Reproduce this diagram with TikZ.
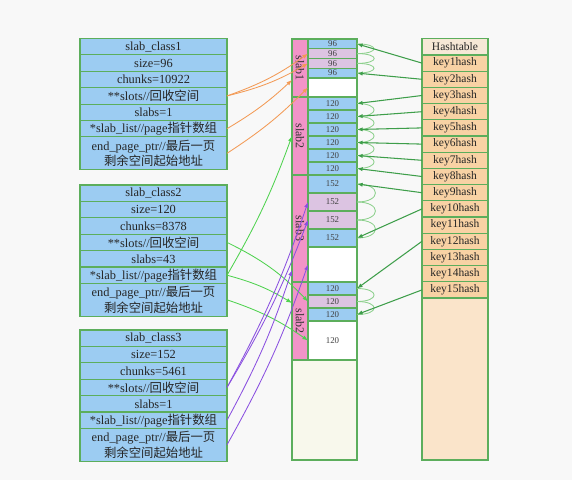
\documentclass[tikz,border=0pt]{standalone}
\usepackage{fontspec}
\setmainfont{Liberation Serif}
\newfontfamily\cjk{Noto Sans CJK SC}
\usetikzlibrary{arrows.meta}

\definecolor{bgcol}{HTML}{F8F8F8}
\definecolor{boxgreen}{HTML}{5CAE5C}
\definecolor{rowblue}{HTML}{9CCCF2}
\definecolor{slabpink}{HTML}{F294C8}
\definecolor{freelilac}{HTML}{DCC4E2}
\definecolor{restcream}{HTML}{F8F8EC}
\definecolor{keypeach}{HTML}{F8D2A4}
\definecolor{headpeach}{HTML}{F6E8D6}
\definecolor{hashempty}{HTML}{FAE4CA}
\definecolor{hashgreen}{HTML}{3E9E4A}
\definecolor{chaingreen}{HTML}{8CD08C}
\definecolor{ptrorange}{HTML}{F39A55}
\definecolor{ptrgreen}{HTML}{4ED24E}
\definecolor{ptrpurple}{HTML}{8A50E0}

\begin{document}
\begin{tikzpicture}[
  x=0.025cm, y=-0.025cm,
  rowbox/.style={
    draw=boxgreen, fill=rowblue, line width=0.8pt,
    minimum width=3.675cm, minimum height=0.41cm,
    inner sep=0pt, outer sep=0pt, align=center,
    font=\fontsize{8.8}{11.2}\selectfont, text=black!85
  },
  endrow/.style={rowbox, minimum height=0.82cm},
  stripbox/.style={
    draw=boxgreen, fill=slabpink, line width=0.8pt,
    minimum width=0.4cm, inner sep=0pt, outer sep=0pt,
    font=\fontsize{8.5}{8.5}\selectfont, text=black!80
  },
  cellbox/.style={
    draw=boxgreen, line width=0.8pt,
    minimum width=1.225cm, inner sep=0pt, outer sep=0pt,
    font=\fontsize{6.3}{6.3}\selectfont, text=black!75
  },
  usedcell/.style={cellbox, fill=rowblue},
  freecell/.style={cellbox, fill=freelilac},
  emptycell/.style={cellbox, fill=white},
  keybox/.style={
    draw=boxgreen, fill=keypeach, line width=0.8pt,
    minimum width=1.65cm, minimum height=0.405cm,
    inner sep=0pt, outer sep=0pt,
    font=\fontsize{8.2}{8.2}\selectfont, text=black!85
  },
  hashptr/.style={-{Latex[length=4pt,width=3pt]}, draw=hashgreen, line width=0.75pt},
  chain/.style={draw=chaingreen, line width=0.6pt},
  ptrA/.style={-{Latex[length=4pt,width=3pt]}, draw=ptrorange, line width=0.6pt},
  ptrB/.style={-{Latex[length=4pt,width=3pt]}, draw=ptrgreen, line width=0.6pt},
  ptrC/.style={-{Latex[length=4pt,width=3pt]}, draw=ptrpurple, line width=0.6pt}
]

\fill[bgcol] (0,0) rectangle (572,480);
\useasboundingbox (0,0) rectangle (572,480);

% slab classes
\node[rowbox] (c1name)   at (153.5, 46.7)  {slab\_class1};
\node[rowbox] (c1size)   at (153.5, 63.1)  {size=96};
\node[rowbox] (c1chunks) at (153.5, 79.5)  {chunks=10922};
\node[rowbox] (c1slots)  at (153.5, 95.9)  {**slots//{\cjk 回收空间}};
\node[rowbox] (c1slabs)  at (153.5, 112.3) {slabs=1};
\node[rowbox] (c1list)   at (153.5, 128.7) {*slab\_list//page{\cjk 指针数组}};
\node[endrow] (c1end)    at (153.5, 153.3) {end\_page\_ptr//{\cjk 最后一页}\\{\cjk 剩余空间起始地址}};

\node[rowbox] (c2name)   at (153.5, 193.2) {slab\_class2};
\node[rowbox] (c2size)   at (153.5, 209.6) {size=120};
\node[rowbox] (c2chunks) at (153.5, 226.0) {chunks=8378};
\node[rowbox] (c2slots)  at (153.5, 242.4) {**slots//{\cjk 回收空间}};
\node[rowbox] (c2slabs)  at (153.5, 258.8) {slabs=43};
\node[rowbox] (c2list)   at (153.5, 275.2) {*slab\_list//page{\cjk 指针数组}};
\node[endrow] (c2end)    at (153.5, 299.8) {end\_page\_ptr//{\cjk 最后一页}\\{\cjk 剩余空间起始地址}};

\node[rowbox] (c3name)   at (153.5, 338.2) {slab\_class3};
\node[rowbox] (c3size)   at (153.5, 354.6) {size=152};
\node[rowbox] (c3chunks) at (153.5, 371.0) {chunks=5461};
\node[rowbox] (c3slots)  at (153.5, 387.4) {**slots//{\cjk 回收空间}};
\node[rowbox] (c3slabs)  at (153.5, 403.8) {slabs=1};
\node[rowbox] (c3list)   at (153.5, 420.2) {*slab\_list//page{\cjk 指针数组}};
\node[endrow] (c3end)    at (153.5, 444.8) {end\_page\_ptr//{\cjk 最后一页}\\{\cjk 剩余空间起始地址}};

% slab pages
\node[stripbox, minimum height=1.45cm]  (slabA) at (300, 68)    {\rotatebox{-90}{slab1}};
\node[stripbox, minimum height=1.95cm]  (slabB) at (300, 136)   {\rotatebox{-90}{slab2}};
\node[stripbox, minimum height=2.675cm] (slabC) at (300, 228.5) {\rotatebox{-90}{slab3}};
\node[stripbox, minimum height=1.95cm]  (slabD) at (300, 321)   {\rotatebox{-90}{slab2}};

\node[usedcell,  minimum height=0.244cm] (s96a) at (332.5, 43.9)  {96};
\node[freecell,  minimum height=0.244cm] (s96b) at (332.5, 53.6)  {96};
\node[freecell,  minimum height=0.244cm] (s96c) at (332.5, 63.4)  {96};
\node[usedcell,  minimum height=0.244cm] (s96d) at (332.5, 73.1)  {96};
\node[emptycell, minimum height=0.475cm] (free1) at (332.5, 87.5) {};

\node[usedcell, minimum height=0.325cm] (s120a) at (332.5, 103.5) {120};
\node[usedcell, minimum height=0.325cm] (s120b) at (332.5, 116.5) {120};
\node[usedcell, minimum height=0.325cm] (s120c) at (332.5, 129.5) {120};
\node[usedcell, minimum height=0.325cm] (s120d) at (332.5, 142.5) {120};
\node[usedcell, minimum height=0.325cm] (s120e) at (332.5, 155.5) {120};
\node[usedcell, minimum height=0.325cm] (s120f) at (332.5, 168.5) {120};

\node[usedcell,  minimum height=0.45cm]  (s152a) at (332.5, 184)   {152};
\node[freecell,  minimum height=0.45cm]  (s152b) at (332.5, 202)   {152};
\node[freecell,  minimum height=0.45cm]  (s152c) at (332.5, 220)   {152};
\node[usedcell,  minimum height=0.45cm]  (s152d) at (332.5, 238)   {152};
\node[emptycell, minimum height=0.875cm] (free3) at (332.5, 264.5) {};

\node[usedcell,  minimum height=0.325cm] (s120g) at (332.5, 288.5) {120};
\node[freecell,  minimum height=0.325cm] (s120h) at (332.5, 301.5) {120};
\node[usedcell,  minimum height=0.325cm] (s120i) at (332.5, 314.5) {120};
\node[emptycell, minimum height=0.975cm] (free2) at (332.5, 340.5) {120};

\node[cellbox, fill=restcream, minimum width=1.625cm, minimum height=2.5cm] (rest) at (324.5, 410) {};
\draw[boxgreen, line width=0.8pt] (slabA.north west) rectangle (rest.south east);

% hashtable
\node[keybox, fill=headpeach] (hhead) at (455, 47) {Hashtable};
\node[keybox] (key1)  at (455, 63.1)  {key1hash};
\node[keybox] (key2)  at (455, 79.3)  {key2hash};
\node[keybox] (key3)  at (455, 95.5)  {key3hash};
\node[keybox] (key4)  at (455, 111.7) {key4hash};
\node[keybox] (key5)  at (455, 127.9) {key5hash};
\node[keybox] (key6)  at (455, 144.1) {key6hash};
\node[keybox] (key7)  at (455, 160.3) {key7hash};
\node[keybox] (key8)  at (455, 176.5) {key8hash};
\node[keybox] (key9)  at (455, 192.7) {key9hash};
\node[keybox] (key10) at (455, 208.9) {key10hash};
\node[keybox] (key11) at (455, 225.1) {key11hash};
\node[keybox] (key12) at (455, 241.3) {key12hash};
\node[keybox] (key13) at (455, 257.5) {key13hash};
\node[keybox] (key14) at (455, 273.7) {key14hash};
\node[keybox] (key15) at (455, 289.9) {key15hash};
\node[keybox, fill=hashempty, minimum height=4.05cm] (hrest) at (455, 379) {};

% item chains
\draw[chain] (s96a.east) to[out=0, in=0, looseness=6] (s96b.east);
\draw[chain] (s96b.east) to[out=0, in=0, looseness=6] (s96c.east);
\draw[chain] (s96c.east) to[out=0, in=0, looseness=6] (s96d.east);
\draw[chain] (s120a.east) to[out=0, in=0, looseness=4.5] (s120b.east);
\draw[chain] (s120b.east) to[out=0, in=0, looseness=4.5] (s120c.east);
\draw[chain] (s120c.east) to[out=0, in=0, looseness=4.5] (s120d.east);
\draw[chain] (s120d.east) to[out=0, in=0, looseness=4.5] (s120e.east);
\draw[chain] (s120e.east) to[out=0, in=0, looseness=4.5] (s120f.east);
\draw[chain] (s152a.east) to[out=0, in=0, looseness=3.5] (s152b.east);
\draw[chain] (s152b.east) to[out=0, in=0, looseness=3.5] (s152c.east);
\draw[chain] (s152c.east) to[out=0, in=0, looseness=3.5] (s152d.east);
\draw[chain] (s120g.east) to[out=0, in=0, looseness=4.5] (s120h.east);
\draw[chain] (s120h.east) to[out=0, in=0, looseness=4.5] (s120i.east);

% hash pointers
\draw[hashptr] (key1.west)  -- (s96a.east);
\draw[hashptr] (key2.west)  -- (s96d.east);
\draw[hashptr] (key3.west)  -- (s120a.east);
\draw[hashptr] (key4.west)  -- (s120b.east);
\draw[hashptr] (key5.west)  -- (s120c.east);
\draw[hashptr] (key6.west)  -- (s120d.east);
\draw[hashptr] (key7.west)  -- (s120e.east);
\draw[hashptr] (key8.west)  -- (s120f.east);
\draw[hashptr] (key9.west)  -- (s152a.east);
\draw[hashptr] (key10.west) -- (s152d.east);
\draw[hashptr] (key12.west) -- (s120g.east);
\draw[hashptr] (key15.west) -- (s120i.east);

% class pointers
\draw[ptrA] (c1slots.east) to[bend right=8] (s96b.west);
\draw[ptrA] (c1slots.east) to[bend right=8] (s96c.west);
\draw[ptrA] (c1list.east)  to[bend right=6] ([yshift=-0.3cm]slabA.west);
\draw[ptrA] (c1end.east)   to[bend right=6] (free1.west);

\draw[ptrB] (c2list.east)  to[bend right=5] (slabB.west);
\draw[ptrB] (c2slots.east) to[bend left=10] (s120h.west);
\draw[ptrB] (c2list.east)  to[bend left=8]  ([yshift=0.45cm]slabD.west);
\draw[ptrB] (c2end.east)   to[bend left=8]  (free2.west);

\draw[ptrC] (c3slots.east) to[bend right=5] (s152b.west);
\draw[ptrC] (c3slots.east) to[bend right=5] (s152c.west);
\draw[ptrC] (c3list.east)  to[bend right=5] ([yshift=-1.04cm]slabC.west);
\draw[ptrC] (c3end.east)   to[bend right=5] (free3.west);

\end{tikzpicture}
\end{document}
